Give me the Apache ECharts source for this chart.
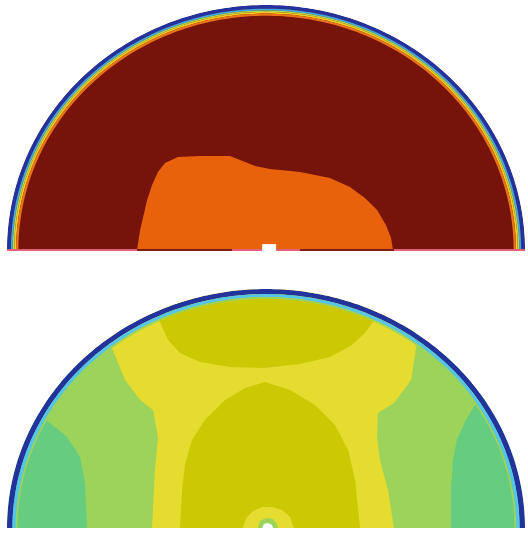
<!DOCTYPE html>
<html>
<head>
<meta charset="utf-8">
<script src="https://cdn.jsdelivr.net/npm/echarts@6/dist/echarts.min.js"></script>
<style>
  html, body { margin: 0; padding: 0; background: #ffffff; }
  #chart { width: 528px; height: 533px; }
</style>
</head>
<body>
<div id="chart"></div>
<script>
// Contour boundaries of the two half-disk fields, in units of the disk radius:
// u runs across (-1 .. 1), v runs up from the flat base (0 .. 1).

// Upper field: inner hot core resting on the base
const topCore = [
  [-0.498, 0], [-0.486, 0.082], [-0.459, 0.204], [-0.440, 0.265], [-0.417, 0.318],
  [-0.390, 0.355], [-0.340, 0.380], [-0.255, 0.384], [-0.139, 0.384], [-0.100, 0.367],
  [-0.042, 0.343], [0.015, 0.331], [0.131, 0.318], [0.247, 0.294], [0.324, 0.257],
  [0.382, 0.212], [0.429, 0.163], [0.463, 0.102], [0.483, 0.049], [0.490, 0]
];
// small gap in the field at the centre of the base
const topNotch = [[-0.015, -0.01], [-0.015, 0.024], [0.039, 0.024], [0.039, -0.01]];
// dark stretches of the base line under the core
const topBaseDark = [[-0.498, -0.131], [0.131, 0.494]];
// radii of the thin contour rings at the rim (outermost first)
const topRimRadii = [1.0, 0.985, 0.978, 0.972, 0.965, 0.956];

// Lower field
const bottomYellow = [
  [-0.70, 1.05], [-0.660, 0.808], [-0.595, 0.753], [-0.544, 0.619], [-0.486, 0.536],
  [-0.436, 0.494], [-0.417, 0.381], [-0.429, 0.243], [-0.440, 0],
  [0.494, 0], [0.471, 0.159], [0.440, 0.285], [0.429, 0.381], [0.432, 0.481],
  [0.494, 0.523], [0.560, 0.619], [0.583, 0.778], [0.672, 0.870], [0.70, 1.05]
];
const bottomUpperLobe = [
  [-0.45, 1.05], [-0.448, 0.954], [-0.409, 0.862], [-0.378, 0.787], [-0.332, 0.732],
  [-0.255, 0.695], [-0.139, 0.674], [-0.008, 0.669], [0.131, 0.686], [0.247, 0.715],
  [0.332, 0.766], [0.382, 0.816], [0.413, 0.862], [0.459, 0.954], [0.46, 1.05]
];
const bottomCentralLobe = [
  [-0.332, 0], [-0.324, 0.159], [-0.313, 0.264], [-0.286, 0.368], [-0.236, 0.452],
  [-0.158, 0.536], [-0.081, 0.586], [-0.004, 0.611], [0.093, 0.577], [0.189, 0.515],
  [0.266, 0.431], [0.317, 0.326], [0.344, 0.201], [0.363, 0]
];
const bottomBump = [
  [-0.089, 0], [-0.077, 0.042], [-0.050, 0.071], [-0.015, 0.088], [0.023, 0.088],
  [0.062, 0.075], [0.093, 0.046], [0.108, 0]
];
const bottomSpotRing = [
  [-0.031, 0], [-0.023, 0.029], [0.000, 0.042], [0.027, 0.038], [0.042, 0.017], [0.046, 0]
];
const bottomSpot = [
  [-0.015, 0], [-0.008, 0.017], [0.008, 0.021], [0.023, 0.013], [0.027, 0]
];
const bottomLeftFlank = [
  [-1.1, 0.5], [-0.892, 0.494], [-0.834, 0.439], [-0.768, 0.381], [-0.718, 0.297],
  [-0.699, 0.188], [-0.691, 0], [-1.1, 0]
];
const bottomRightFlank = [
  [1.1, 0.577], [0.884, 0.577], [0.815, 0.527], [0.772, 0.452], [0.737, 0.368],
  [0.722, 0.285], [0.714, 0.159], [0.714, 0], [1.1, 0]
];
const bottomRimRadii = [1.0, 0.979, 0.966, 0.959];

// colour map of the contour levels
const palette = {
  darkRed: '#76130b',
  orange: '#e8620c',
  topRings: ['#23329c', '#3fa8e8', '#a6d85a', '#f2cc1c', '#e9731a'],
  baseLine: '#e2627a',
  baseDark: '#7d1c10',
  olive: '#cbc904',
  yellow: '#e6dc30',
  lightGreen: '#9bd35b',
  teal: '#66cc80',
  bottomRings: ['#22339c', '#56c6e6', '#9bd35b'],
  white: '#ffffff'
};

// ---- geometry helpers (data space) ----
function arc(r, a0, a1, n) {
  const pts = [];
  for (let i = 0; i <= n; i++) {
    const a = a0 + (a1 - a0) * i / n;
    pts.push([r * Math.cos(a), r * Math.sin(a)]);
  }
  return pts;
}
function halfDisk(r) {
  return arc(r, 0, Math.PI, 180);
}
function ring(rOuter, rInner) {
  return arc(rOuter, 0, Math.PI, 180).concat(arc(rInner, Math.PI, 0, 180));
}
function outsideMask(r, reach) {
  return arc(r, 0, Math.PI, 180).concat([[-reach, 0], [-reach, reach], [reach, reach], [reach, 0]]);
}
function rings(radii, colors) {
  const out = [];
  for (let i = 0; i < radii.length - 1; i++) {
    out.push({ pts: ring(radii[i], radii[i + 1]), color: colors[i] });
  }
  return out;
}

const topLayers = [
  { pts: halfDisk(1.0), color: palette.darkRed },
  { pts: topCore, color: palette.orange }
].concat(rings(topRimRadii, palette.topRings)).concat([
  { pts: outsideMask(1.0, 1.08), color: palette.white },
  { line: true, pts: [[-1.0, 0], [1.0, 0]], color: palette.baseLine, width: 2 },
  { line: true, pts: [[topBaseDark[0][0], 0], [topBaseDark[0][1], 0]], color: palette.baseDark, width: 2 },
  { line: true, pts: [[topBaseDark[1][0], 0], [topBaseDark[1][1], 0]], color: palette.baseDark, width: 2 },
  { pts: topNotch, color: palette.white }
]);

const bottomLayers = [
  { pts: halfDisk(1.0), color: palette.lightGreen },
  { pts: bottomLeftFlank, color: palette.teal },
  { pts: bottomRightFlank, color: palette.teal },
  { pts: bottomYellow, color: palette.yellow },
  { pts: bottomUpperLobe, color: palette.olive },
  { pts: bottomCentralLobe, color: palette.olive },
  { pts: bottomBump, color: palette.yellow },
  { pts: bottomSpotRing, color: palette.lightGreen },
  { pts: bottomSpot, color: palette.white }
].concat(rings(bottomRimRadii, palette.bottomRings)).concat([
  { pts: outsideMask(1.0, 1.08), color: palette.white }
]);

function layerRenderer(layers) {
  return function (params, api) {
    const L = layers[params.dataIndex];
    const points = L.pts.map(p => api.coord(p));
    if (L.line) {
      return { type: 'polyline', shape: { points }, style: { stroke: L.color, lineWidth: L.width, fill: null } };
    }
    return { type: 'polygon', shape: { points }, style: { fill: L.color, stroke: null } };
  };
}

const axisCommon = { show: false, splitLine: { show: false } };

const chart = echarts.init(document.getElementById('chart'), null, { renderer: 'canvas' });
chart.setOption({
  backgroundColor: '#ffffff',
  animation: false,
  grid: [
    { left: 7, top: 5, width: 518, height: 245 },
    { left: 7, top: 289, width: 518, height: 239 }
  ],
  xAxis: [
    Object.assign({ type: 'value', gridIndex: 0, min: -1, max: 1 }, axisCommon),
    Object.assign({ type: 'value', gridIndex: 1, min: -1, max: 1 }, axisCommon)
  ],
  yAxis: [
    Object.assign({ type: 'value', gridIndex: 0, min: 0, max: 1 }, axisCommon),
    Object.assign({ type: 'value', gridIndex: 1, min: 0, max: 1 }, axisCommon)
  ],
  series: [
    {
      type: 'custom', xAxisIndex: 1, yAxisIndex: 1, silent: true, clip: false, z: 1,
      renderItem: layerRenderer(bottomLayers),
      data: bottomLayers.map(() => [0, 0])
    },
    {
      type: 'custom', xAxisIndex: 0, yAxisIndex: 0, silent: true, clip: false, z: 2,
      renderItem: layerRenderer(topLayers),
      data: topLayers.map(() => [0, 0])
    }
  ]
});
</script>
</body>
</html>
